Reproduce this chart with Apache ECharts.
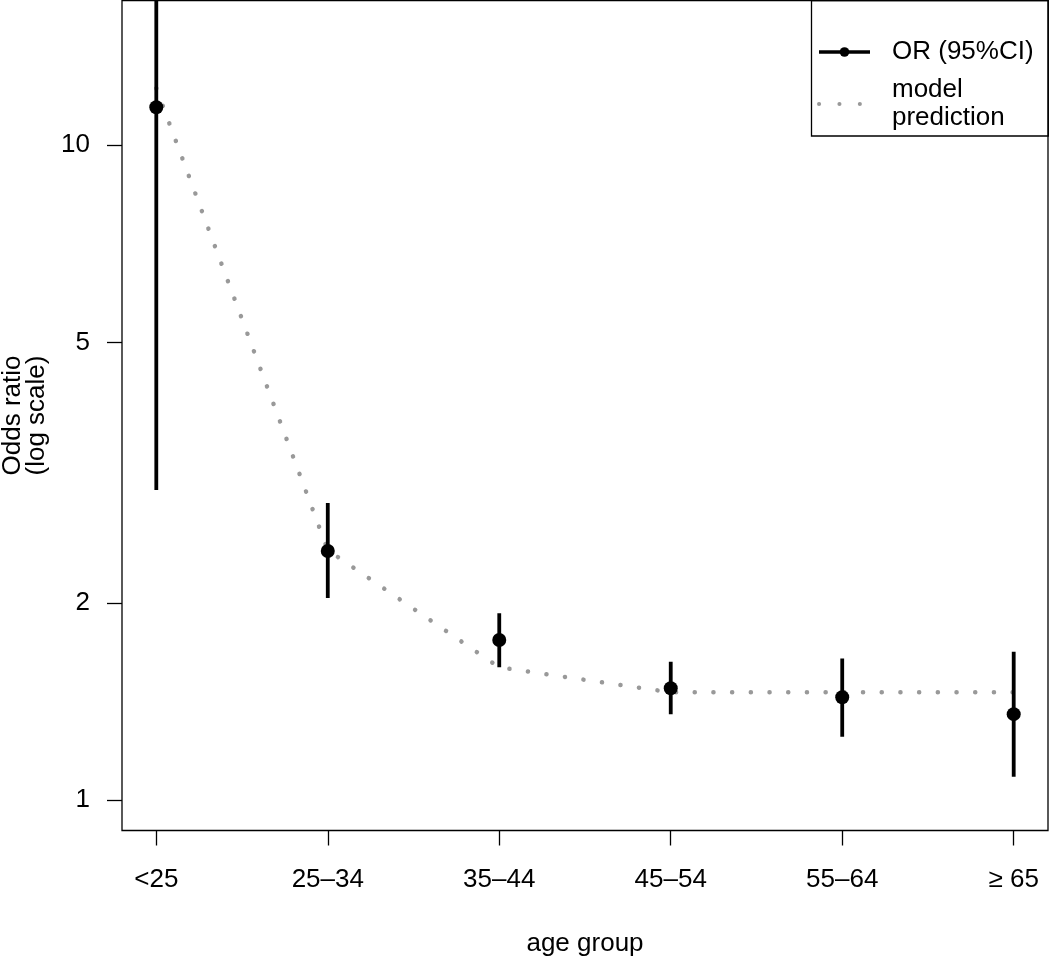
<!DOCTYPE html>
<html>
<head>
<meta charset="utf-8">
<script src="https://cdn.jsdelivr.net/npm/echarts@6/dist/echarts.min.js"></script>
<style>
  html, body { margin: 0; padding: 0; background: #fff; }
  #chart { width: 1050px; height: 959px; }
</style>
</head>
<body>
<div id="chart"></div>
<script>
// ---- data ----
const categories = ['<25', '25–34', '35–44', '45–54', '55–64', '≥ 65'];
const orValues   = [11.43, 2.40, 1.755, 1.481, 1.435, 1.352];
const ciLower    = [2.974, 2.034, 1.594, 1.352, 1.249, 1.085];
const ciUpper    = [40.0, 2.841, 1.928, 1.626, 1.645, 1.684];
const modelPred  = [12.22, 2.408, 1.594, 1.460, 1.460, 1.460];
const yTicks     = [1, 2, 5, 10];
const xTicks     = [0, 1, 2, 3, 4, 5];

const FONT = 'Liberation Sans, Arial, Helvetica, sans-serif';

const chart = echarts.init(document.getElementById('chart'), null, { renderer: 'canvas' });

const orData = orValues.map((v, i) => [i, v]);
const modelData = modelPred.map((v, i) => [i, v]);
const ciData = ciLower.map((lo, i) => [i, lo, ciUpper[i]]);

const option = {
  animation: false,
  backgroundColor: '#ffffff',
  textStyle: { fontFamily: FONT },
  grid: {
    left: 122, right: 2, top: 0.5, bottom: 128.5,
    containLabel: false,
    outerBoundsMode: 'none',
    show: true, borderColor: '#000', borderWidth: 1.3, backgroundColor: 'transparent'
  },
  xAxis: {
    type: 'value',
    min: -0.2, max: 5.2,
    splitLine: { show: false },
    axisLine: { show: false, onZero: false },
    axisTick: { show: true, inside: false, length: 15, lineStyle: { color: '#000', width: 1.3 }, customValues: xTicks },
    axisLabel: {
      customValues: xTicks,
      formatter: v => categories[Math.round(v)],
      color: '#000', fontSize: 26, fontFamily: FONT, margin: 36
    },
    name: 'age group',
    nameLocation: 'middle',
    nameGap: 100,
    nameTextStyle: { color: '#000', fontSize: 26, fontFamily: FONT }
  },
  yAxis: {
    type: 'log',
    logBase: 10,
    min: 0.898, max: 16.64,
    splitLine: { show: false },
    axisLine: { show: false, onZero: false },
    axisTick: { show: true, inside: false, length: 15, lineStyle: { color: '#000', width: 1.3 }, customValues: yTicks },
    axisLabel: {
      customValues: yTicks,
      formatter: v => String(Math.round(v)),
      color: '#000', fontSize: 26, fontFamily: FONT, margin: 32
    },
    name: 'Odds ratio\n(log scale)',
    nameLocation: 'middle',
    nameRotate: 90,
    nameGap: 72,
    nameTextStyle: { color: '#000', fontSize: 26, lineHeight: 24, fontFamily: FONT }
  },
  legend: {
    orient: 'vertical',
    left: 817, top: 38,
    padding: 0,
    itemGap: 10,
    itemWidth: 51, itemHeight: 12,
    textStyle: { color: '#000', fontSize: 26, lineHeight: 28, fontFamily: FONT, padding: [0, 0, 0, 17] },
    data: [
      { name: 'OR (95%CI)', itemStyle: { color: '#000', opacity: 1 }, lineStyle: { color: '#000', width: 3.5, opacity: 1, type: 'solid' } },
      { name: 'model\nprediction', itemStyle: { opacity: 0 }, lineStyle: { color: '#999999', width: 4, opacity: 1, type: [0.1, 20.3], cap: 'round' } }
    ]
  },
  graphic: [{
    type: 'rect',
    shape: { x: 811.5, y: 0.5, width: 236.8, height: 135.5 },
    style: { fill: 'transparent', stroke: '#000', lineWidth: 1.3 },
    z: 100, silent: true
  }],
  series: [
    {
      name: 'model\nprediction',
      type: 'line',
      data: modelData,
      symbol: 'none',
      z: 1,
      lineStyle: { color: '#999999', width: 4.5, type: [0.1, 18.6], cap: 'round' },
      itemStyle: { color: '#999999' }
    },
    {
      name: 'CI',
      type: 'custom',
      clip: true,
      z: 2,
      data: ciData,
      encode: { x: 0, y: [1, 2] },
      renderItem: function (params, api) {
        const i = api.value(0);
        const p1 = api.coord([i, api.value(1)]);
        const p2 = api.coord([i, api.value(2)]);
        return {
          type: 'line',
          shape: { x1: p1[0], y1: p1[1], x2: p2[0], y2: p2[1] },
          style: { stroke: '#000', lineWidth: 3.8 }
        };
      }
    },
    {
      name: 'OR (95%CI)',
      type: 'line',
      data: orData,
      z: 3,
      symbol: 'circle',
      symbolSize: 14,
      showSymbol: true,
      itemStyle: { color: '#000' },
      lineStyle: { width: 0, opacity: 0 }
    }
  ]
};

chart.setOption(option);
</script>
</body>
</html>
